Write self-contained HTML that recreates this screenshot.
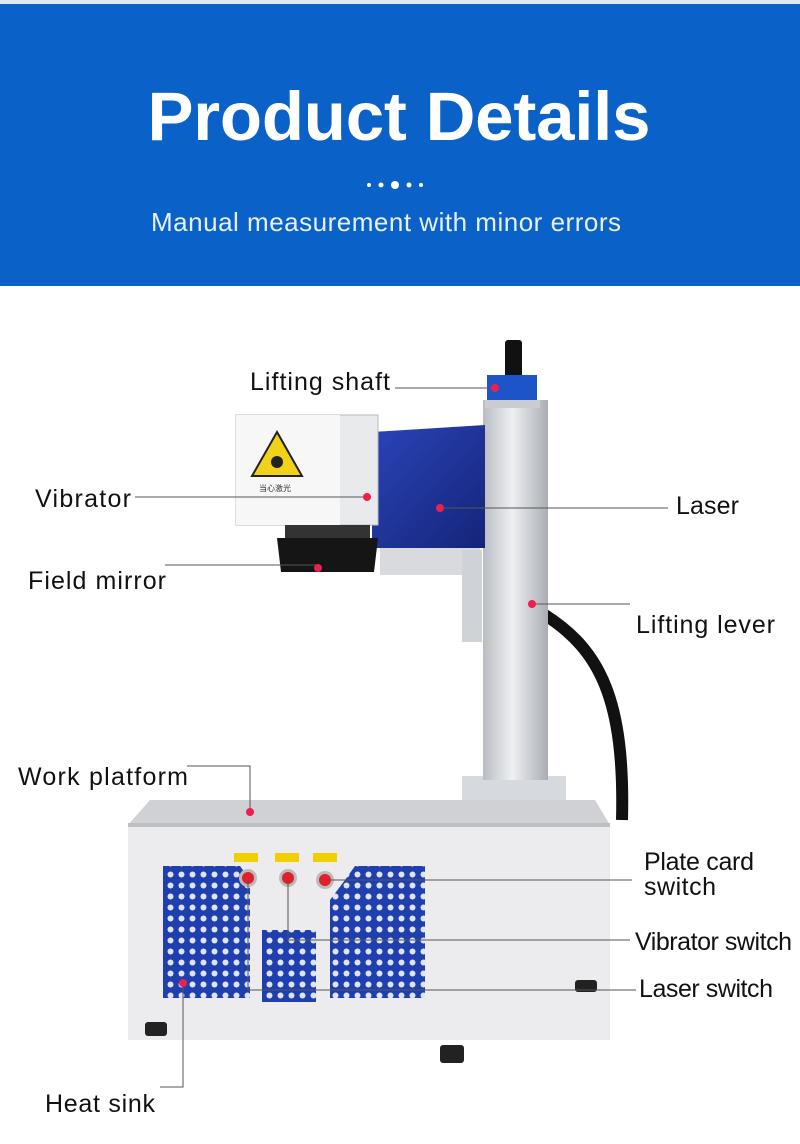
<!DOCTYPE html>
<html><head><meta charset="utf-8"><style>
body{margin:0;width:800px;height:1139px;overflow:hidden;background:#fff;font-family:"Liberation Sans",sans-serif}
</style></head><body>
<svg width="800" height="1139" viewBox="0 0 800 1139" xmlns="http://www.w3.org/2000/svg" font-family="Liberation Sans, sans-serif">
<defs>
<pattern id="holes" width="11" height="11" patternUnits="userSpaceOnUse"><rect width="11" height="11" fill="#1f3fae"/><circle cx="5.5" cy="5.5" r="3" fill="#dfe4f3"/></pattern>
<linearGradient id="col" x1="0" x2="1"><stop offset="0" stop-color="#b9bdc3"/><stop offset=".45" stop-color="#eef0f2"/><stop offset="1" stop-color="#a9adb3"/></linearGradient>
<linearGradient id="arm" x1="0" x2="1" y1="0" y2="1"><stop offset="0" stop-color="#2a44b8"/><stop offset="1" stop-color="#15247a"/></linearGradient>
</defs>
<rect x="0" y="0" width="800" height="286" fill="#0a62c8"/>
<rect x="0" y="0" width="800" height="4" fill="#dfe8f4"/>
<text x="399" y="140" text-anchor="middle" font-size="69" font-weight="bold" fill="#fff" textLength="503">Product Details</text>
<circle cx="369" cy="185" r="2" fill="#fff"/><circle cx="381" cy="185" r="2.5" fill="#fff"/><circle cx="395" cy="185" r="4" fill="#fff"/><circle cx="409" cy="185" r="2.5" fill="#fff"/><circle cx="421" cy="185" r="2" fill="#fff"/>
<text x="386" y="231" text-anchor="middle" font-size="26" fill="#e8f0fb" textLength="470">Manual measurement with minor errors</text>

<path d="M545 615 C600 650 625 700 622 820" stroke="#111" stroke-width="12" fill="none"/>
<rect x="462" y="776" width="104" height="36" fill="#d6d9dd"/>
<rect x="483" y="400" width="65" height="380" fill="url(#col)"/>
<rect x="505" y="340" width="17" height="40" rx="3" fill="#111"/>
<rect x="487" y="375" width="50" height="30" fill="#1d55c9"/>
<rect x="485" y="400" width="55" height="8" fill="#c9ccd0"/>
<rect x="380" y="545" width="100" height="30" fill="#d8dadd"/>
<rect x="462" y="550" width="20" height="92" fill="#cfd2d6"/>
<path d="M372 432 L485 425 L485 548 L372 548Z" fill="url(#arm)"/>
<rect x="236" y="415" width="142" height="110" fill="#e9eaec" stroke="#bbb"/>
<rect x="236" y="415" width="104" height="110" fill="#f7f7f8"/>
<polygon points="277,432 302,476 252,476" fill="#f1d21b" stroke="#222" stroke-width="2"/>
<circle cx="277" cy="462" r="6" fill="#222"/>
<text x="275" y="491" text-anchor="middle" font-size="8" fill="#333">当心激光</text>
<rect x="285" y="525" width="85" height="14" fill="#333"/>
<path d="M277 538 L378 538 L374 572 L281 572Z" fill="#151515"/>
<path d="M128 825 L150 800 L595 800 L610 825Z" fill="#cfd1d4"/>
<rect x="128" y="823" width="482" height="217" fill="#ececef"/>
<rect x="128" y="823" width="482" height="4" fill="#bdbfc3"/>
<path d="M163 866 L240 866 L250 880 L250 998 L163 998Z" fill="url(#holes)"/>
<path d="M345 880 L355 866 L425 866 L425 998 L330 998 L330 900Z" fill="url(#holes)"/>
<rect x="262" y="930" width="54" height="72" fill="url(#holes)"/>
<rect x="234" y="853" width="24" height="9" fill="#f2d000"/><rect x="275" y="853" width="24" height="9" fill="#f2d000"/><rect x="313" y="853" width="24" height="9" fill="#f2d000"/>
<circle cx="248" cy="878" r="9" fill="#bbb"/><circle cx="248" cy="878" r="6" fill="#e0202a"/>
<circle cx="288" cy="878" r="9" fill="#bbb"/><circle cx="288" cy="878" r="6" fill="#e0202a"/>
<circle cx="325" cy="880" r="9" fill="#bbb"/><circle cx="325" cy="880" r="6" fill="#e0202a"/>
<rect x="145" y="1022" width="22" height="14" rx="3" fill="#222"/><rect x="440" y="1045" width="24" height="18" rx="3" fill="#222"/><rect x="575" y="980" width="22" height="12" rx="3" fill="#222"/>

<g stroke="#555" stroke-width="1" fill="none">
<path d="M395 388 H495"/>
<path d="M135 497 H367"/>
<path d="M440 508 H668"/>
<path d="M165 565 H318"/>
<path d="M532 604 H630"/>
<path d="M187 766 H250 V810"/>
<path d="M330 880 H632"/>
<path d="M288 880 V940 H630"/>
<path d="M248 880 V990 H636"/>
<path d="M183 983 V1087 H160"/>
</g>
<g fill="#ee1f4b">
<circle cx="495" cy="388" r="4"/><circle cx="367" cy="497" r="4"/><circle cx="440" cy="508" r="4"/><circle cx="318" cy="568" r="4"/><circle cx="532" cy="604" r="4"/><circle cx="250" cy="812" r="4"/><circle cx="183" cy="983" r="4"/>
</g>
<g font-size="25" fill="#111">
<text x="250" y="390" textLength="140">Lifting shaft</text>
<text x="35" y="507" textLength="96">Vibrator</text>
<text x="676" y="514" textLength="63">Laser</text>
<text x="28" y="589" textLength="138">Field mirror</text>
<text x="636" y="633" textLength="139">Lifting lever</text>
<text x="18" y="785" textLength="170">Work platform</text>
<text x="644" y="870" textLength="110">Plate card</text>
<text x="644" y="895" textLength="72">switch</text>
<text x="635" y="950" textLength="157">Vibrator switch</text>
<text x="639" y="997" textLength="134">Laser switch</text>
<text x="45" y="1112" textLength="110">Heat sink</text>
</g>
</svg>
</body></html>
